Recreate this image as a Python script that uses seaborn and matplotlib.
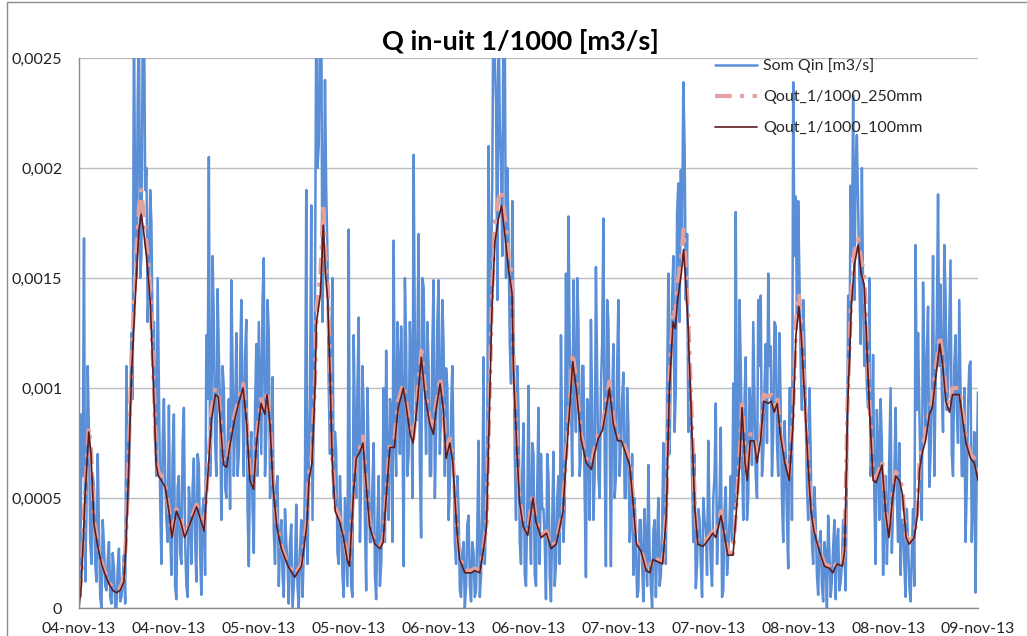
import numpy as np
import pandas as pd
import matplotlib
matplotlib.use("Agg")
import matplotlib.pyplot as plt
import seaborn as sns

# ---------------- data (values in 1e-5 m3/s) ----------------
title = "Q in-uit 1/1000 [m3/s]"
series_names = ["Som Qin [m3/s]", "Qout_1/1000_250mm", "Qout_1/1000_100mm"]
tick_hours = [0, 12, 24, 36, 48, 60, 72, 84, 96, 108, 120]
tick_labels = ["04-nov-13", "04-nov-13", "05-nov-13", "05-nov-13", "06-nov-13",
               "06-nov-13", "07-nov-13", "07-nov-13", "08-nov-13", "08-nov-13",
               "09-nov-13"]
y_ticks = [0, 0.0005, 0.001, 0.0015, 0.002, 0.0025]
y_tick_labels = ["0", "0,0005", "0,001", "0,0015", "0,002", "0,0025"]

# Som Qin at :00, :20, :40 of every hour (hours 0..119) + end value
qin_a = [
    25, 88, 168,  45, 78, 20,  55, 12, 35,  0, 28, 8,  30, 2, 18,  0, 27, 5,
    24, 110, 60,  125, 270, 150,  270, 160, 280,  200, 150, 175,  130, 60, 100,  20, 95, 40,
    92, 15, 88,  4, 60, 20,  91, 10, 55,  20, 68, 12,  65, 6, 50,  124, 205, 80,
    130, 60, 115,  40, 100, 50,  95, 149, 60,  125, 70, 140,  60, 131, 19,  80, 25, 120,
    130, 70, 159,  80, 125, 60,  35, 55, 10,  40, 5, 30,  2, 38, 10,  47, 0, 40,
    25, 190, 60,  183, 90, 270,  210, 280, 170,  190, 100, 120,  50, 71, 20,  40, 5, 30,
    172, 10, 124,  50, 132, 60,  90, 8, 70,  30, 75, 4,  60, 20, 100,  117, 40, 90,
    167, 60, 110,  128, 19, 120,  70, 110, 206,  85, 170, 32,  146, 70, 110,  60, 149, 80,
    149, 90, 120,  109, 40, 90,  70, 20, 45,  5, 30, 10,  42, 3, 25,  8, 76, 15,
    114, 40, 210,  150, 290, 230,  275, 200, 290,  150, 170, 102,  130, 40, 90,  20, 84, 10,
    101, 20, 70,  10, 91, 70,  45, 4, 60,  3, 71, 20,  60, 124, 30,  152, 178, 95,
    149, 80, 130,  70, 110, 14,  90, 131, 40,  155, 60, 100,  177, 19, 130,  19, 120, 60,
    140, 75, 107,  50, 83, 40,  15, 30, 8,  40, 3, 25,  65, 10, 35,  5, 50, 15,
    75, 20, 152,  110, 160, 100,  193, 199, 239,  140, 80, 91,  30, 9, 45,  20, 50, 35,
    76, 20, 50,  93, 40, 82,  8, 55, 25,  60, 102, 180,  60, 110, 40,  114, 50, 90,
    130, 60, 140,  142, 70, 120,  152, 119, 80,  128, 60, 90,  30, 70, 18,  100, 239, 187,
    185, 110, 140,  90, 40, 70,  20, 40, 6,  35, 3, 25,  42, 5, 28,  4, 36, 12,
    40, 8, 142,  192, 233, 199,  182, 120, 140,  130, 91, 60,  115, 20, 75,  95, 15, 60,
    40, 100, 47,  91, 30, 15,  40, 5, 30,  3, 45, 165,  125, 60, 148,  80, 137, 70,
    160, 100, 188,  147, 80, 143,  100, 158, 60,  124, 75, 100,  60, 30, 90,  112, 50, 7,
    98,
]

# Som Qin at :10, :30, :50 of every hour (hours 0..119)
qin_b = [
    5, 60, 12,  110, 30, 60,  20, 70, 5,  40, 10, 22,  5, 25, 0,  18, 3, 12,
    2, 45, 90,  95, 180, 230,  150, 260, 190,  130, 190, 120,  80, 150, 50,  75, 60, 30,
    35, 70, 10,  55, 25, 75,  30, 5, 45,  55, 30, 70,  25, 45, 15,  95, 60, 160,
    75, 145, 90,  110, 55, 75,  45, 110, 85,  60, 110, 90,  115, 45, 70,  45, 90, 60,
    100, 140, 60,  140, 50, 105,  20, 60, 30,  15, 45, 20,  30, 0, 20,  10, 25, 5,
    60, 20, 95,  40, 140, 200,  265, 130, 240,  160, 70, 150,  80, 25, 60,  15, 50, 10,
    40, 5, 80,  100, 30, 110,  40, 100, 30,  55, 15, 40,  10, 45, 30,  60, 95, 30,
    80, 130, 70,  90, 150, 60,  130, 50, 120,  120, 65, 150,  100, 130, 60,  120, 50, 130,
    70, 140, 60,  100, 55, 110,  30, 60, 8,  25, 0, 38,  10, 30, 5,  35, 5, 45,
    20, 80, 120,  195, 250, 140,  220, 160, 260,  200, 120, 185,  70, 110, 30,  60, 15, 45,
    40, 75, 15,  55, 20, 45,  30, 70, 15,  40, 10, 50,  20, 70, 45,  80, 120, 60,
    100, 150, 60,  110, 50, 95,  40, 90, 60,  105, 50, 120,  70, 140, 80,  95, 50, 110,
    60, 95, 50,  100, 30, 70,  50, 5, 40,  20, 45, 10,  25, 0, 40,  30, 10, 35,
    45, 100, 70,  140, 80, 180,  130, 170, 210,  170, 110, 60,  70, 20, 40,  5, 40, 15,
    40, 10, 60,  20, 50, 5,  45, 15, 40,  30, 45, 60,  140, 70, 95,  40, 100, 65,
    95, 50, 110,  60, 100, 75,  110, 60, 130,  75, 125, 50,  85, 40, 100,  40, 160, 130,
    150, 90, 120,  55, 100, 30,  55, 15, 30,  10, 30, 0,  25, 12, 40,  30, 8, 20,
    25, 60, 110,  160, 140, 215,  150, 200, 110,  100, 150, 70,  50, 90, 40,  75, 40, 20,
    70, 25, 60,  50, 75, 40,  20, 45, 10,  25, 10, 90,  90, 40, 110,  115, 55, 100,
    60, 130, 110,  100, 165, 90,  130, 70, 110,  90, 140, 60,  100, 55, 110,  30, 80, 65,
]

# smoothed outflow series: time (hours) and values
out_hours = [
    0, 0.3, 0.8, 1.3, 1.6, 2, 2.5, 3, 3.5, 4, 4.5, 5, 5.5, 6, 6.3, 6.6, 7, 7.5, 8, 8.3,
    8.6, 9, 9.5, 10, 10.3, 10.6, 11, 11.5, 12,
    12.4, 13.0, 13.5, 14.1, 15.0, 15.7, 16.7, 17.3, 17.7, 18.2, 18.6, 19.3, 19.7, 20.2,
    20.8, 21.3, 21.9, 22.4, 22.8, 23.3, 23.7, 24.3,
    24.8, 25.1, 25.5, 25.9, 26.4, 27.0, 27.9, 28.8, 29.7, 30.4, 30.7, 31.1, 31.5, 31.7,
    32.2, 32.4, 32.6, 32.9, 33.2, 33.5, 33.8, 34.2, 34.8, 35.3, 35.8,
    36.1, 36.6, 37.0, 37.5, 37.9, 38.4, 38.8, 39.5, 40.2, 40.6, 41.0, 41.5, 42.1, 42.6,
    43.3, 43.7, 44.2, 44.6, 45.1, 45.7, 46.2, 46.8, 47.3, 47.7, 48.2,
    48.6, 49.0, 49.5, 49.9, 50.4, 50.8, 51.5, 52.4, 52.8, 53.5, 54.1, 54.4, 54.8, 55.1,
    55.5, 56.0, 56.4, 56.9, 57.3, 57.8, 58.0, 58.4, 58.8, 59.3, 59.9,
    60.6, 61.0, 61.7, 62.4, 63.0, 63.7, 64.2, 64.6, 65.0, 65.5, 65.9, 66.4, 67.0, 67.7,
    68.4, 68.8, 69.3, 69.9, 70.4, 70.8, 71.3, 71.9,
    72.4, 73.0, 73.5, 73.9, 74.4, 75.0, 75.7, 76.2, 76.6, 77.3, 77.9, 78.4, 78.8, 79.3,
    79.6, 79.9, 80.4, 80.7, 81.0, 81.3, 81.7, 82.2, 82.6, 83.3, 84.0,
    84.6, 85.0, 85.7, 86.1, 86.6, 87.3, 87.7, 88.2, 88.5, 88.9, 89.2, 89.6, 90.1, 90.5,
    91.0, 91.4, 92.0, 92.4, 92.8, 93.2, 93.6, 94.2, 94.8, 95.3, 95.7, 96.1,
    96.4, 96.8, 97.3, 97.7, 98.1, 98.8, 99.5, 100.2, 100.6, 101.2, 101.9, 102.2, 102.6,
    103.1, 103.5, 104.0, 104.4, 104.8, 105.1, 105.5, 106.0, 106.4, 106.9, 107.2, 107.7, 108.1,
    108.6, 109.0, 109.5, 109.9, 110.4, 110.8, 111.5, 111.9, 112.2, 112.6, 113.0, 113.5,
    113.9, 114.4, 114.9, 115.3, 115.7, 116.2, 116.6, 117.1, 117.5, 118.0, 118.4, 119.0,
    119.5, 120.0,
]

qout_100 = [
    0, 10, 50, 80, 70, 38, 28, 20, 15, 11, 8, 7, 8, 12, 30, 60, 105, 140, 172, 179,
    172, 160, 140, 95, 65, 60, 58, 55, 44,
    32, 44, 40, 32, 40, 46, 35, 66, 86, 97, 96, 65, 64, 75,
    86, 93, 100, 83, 58, 54, 75, 93,
    88, 97, 83, 55, 37, 27, 19, 14, 19, 37, 58, 66, 99, 130,
    142, 156, 174, 152, 140, 107, 66, 44, 39, 32, 22,
    19, 50, 68, 71, 75, 53, 37, 29, 27, 30, 50, 73, 73, 91,
    100, 91, 79, 75, 91, 114, 96, 84, 79, 91, 102,
    91, 68, 75, 66, 37, 22, 16, 16, 17, 16, 29, 37, 91, 133,
    166, 177, 183, 168, 155, 143, 107, 75, 48, 37, 33,
    50, 39, 32, 34, 27, 29, 37, 44, 66, 91, 112, 99, 77, 66,
    63, 70, 77, 81, 91, 100, 84, 76,
    76, 70, 65, 50, 29, 26, 17, 16, 22, 21, 20, 42, 99, 130,
    127, 140, 152, 163, 147, 128, 91, 45, 29, 28, 31,
    34, 32, 42, 34, 24, 24, 42, 66, 91, 66, 58, 76, 76, 66,
    77, 94, 93, 94, 89, 93, 79, 66, 58, 83, 124, 137,
    124, 99, 66, 44, 35, 26, 19, 18, 16, 20, 19, 26, 91,
    137, 156, 165, 152, 147, 124, 91, 58, 57, 62, 65, 42, 32,
    50, 60, 58, 52, 32, 29, 32, 42, 63, 71, 76, 88,
    91, 106, 120, 110, 94, 89, 97, 97, 97, 84, 75, 68,
    66, 58,
]

qout_250 = [
    6, 14, 52, 82, 72, 40, 29, 21, 16, 12, 9, 8, 9, 14, 34, 66, 112, 150, 182, 190,
    180, 166, 146, 100, 68, 62, 60, 56, 45,
    33, 45, 41, 33, 41, 47, 36, 68, 90, 100, 98, 67, 66, 77,
    88, 95, 102, 85, 60, 56, 77, 95,
    90, 99, 85, 57, 38, 28, 20, 15, 20, 39, 61, 70, 104, 136,
    150, 164, 184, 160, 146, 112, 69, 46, 41, 33, 23,
    20, 52, 70, 73, 78, 55, 38, 30, 28, 31, 52, 75, 76, 94,
    102, 93, 81, 77, 93, 117, 99, 86, 81, 93, 105,
    93, 70, 77, 68, 38, 23, 17, 17, 18, 17, 30, 39, 95, 140,
    175, 186, 190, 176, 162, 150, 112, 78, 50, 38, 34,
    52, 40, 33, 35, 28, 30, 38, 46, 69, 94, 116, 102, 79, 68,
    65, 72, 79, 83, 94, 103, 86, 78,
    78, 72, 67, 52, 30, 27, 18, 17, 23, 22, 21, 44, 104, 136,
    133, 147, 160, 172, 154, 134, 95, 47, 30, 29, 32,
    35, 33, 44, 35, 25, 25, 44, 69, 95, 69, 60, 79, 79, 68,
    79, 97, 96, 97, 92, 96, 81, 68, 60, 87, 130, 143,
    130, 103, 69, 46, 36, 27, 20, 19, 17, 21, 20, 27, 95,
    143, 162, 168, 158, 153, 129, 95, 60, 59, 64, 67, 43, 33,
    52, 62, 60, 54, 33, 30, 33, 44, 66, 74, 79, 91,
    94, 110, 124, 114, 97, 92, 100, 100, 100, 87, 77, 70,
    68, 60,
]

# ---------------- build frames ----------------
scale = 1e-5
qin_all = []
for a, b in zip(qin_a[:-1], qin_b):
    qin_all.extend([a, b])
qin_all.append(qin_a[-1])
qin_hours = np.arange(len(qin_all)) / 6.0
df_in = pd.DataFrame({"hour": qin_hours, "q": np.array(qin_all) * scale})
df_250 = pd.DataFrame({"hour": out_hours, "q": np.array(qout_250) * scale})
df_100 = pd.DataFrame({"hour": out_hours, "q": np.array(qout_100) * scale})

# ---------------- style ----------------
sns.set_theme(style="white")
plt.rcParams["font.family"] = ["Lato", "DejaVu Sans"]

c_blue = "#5A8ED6"
c_pink = "#E3A09D"
c_dark = "#5E1B1B"

fig = plt.figure(figsize=(10.27, 6.36), dpi=100)
W, H = 1027, 636
ax = fig.add_axes([79 / W, (H - 608) / H, (978 - 79) / W, (608 - 58) / H])

sns.lineplot(data=df_in, x="hour", y="q", ax=ax, color=c_blue, linewidth=1.8,
             label=series_names[0], sort=False, estimator=None)
sns.lineplot(data=df_250, x="hour", y="q", ax=ax, color=c_pink, linewidth=3.0,
             linestyle=(0, (4, 2, 1, 2)), label=series_names[1], sort=False,
             estimator=None)
sns.lineplot(data=df_100, x="hour", y="q", ax=ax, color=c_dark, linewidth=1.2,
             label=series_names[2], sort=False, estimator=None)

ax.set_xlim(0, 120)
ax.set_ylim(0, 0.0025)
ax.set_xticks(tick_hours)
ax.set_xticklabels(tick_labels, fontsize=11.3)
ax.set_yticks(y_ticks)
ax.set_yticklabels(y_tick_labels, fontsize=11.5)
ax.set_xlabel("")
ax.set_ylabel("")

ax.yaxis.grid(True, color="#BEBEBE", linewidth=1.0)
ax.xaxis.grid(False)
ax.set_axisbelow(True)
for s in ["top", "right"]:
    ax.spines[s].set_visible(False)
for s in ["left", "bottom"]:
    ax.spines[s].set_color("#8C8C8C")
    ax.spines[s].set_linewidth(1.0)
ax.tick_params(axis="x", direction="out", length=5, width=1, color="#8C8C8C",
               pad=5, labelcolor="#222222")
ax.tick_params(axis="y", direction="out", length=5, width=1, color="#8C8C8C",
               pad=7, labelcolor="#222222")
ax.patch.set_alpha(0)

fig.text(520 / W, 1 - 42 / H, title, ha="center", va="center",
         fontsize=19.5, fontweight="bold", color="black")

leg = ax.legend(loc="upper left", bbox_to_anchor=(709 / W, 1 - 52 / H),
                bbox_transform=fig.transFigure, frameon=False, fontsize=11.5,
                handlelength=2.6, labelspacing=1.05, handletextpad=0.4,
                borderaxespad=0)

# outer chart border
fig.patches.append(plt.Rectangle((7 / W, -0.01), 1.2, 1 - 2 / H + 0.01,
                                 transform=fig.transFigure, fill=False,
                                 edgecolor="#8C8C8C", linewidth=1.0))

fig.savefig("out.png", dpi=100)
